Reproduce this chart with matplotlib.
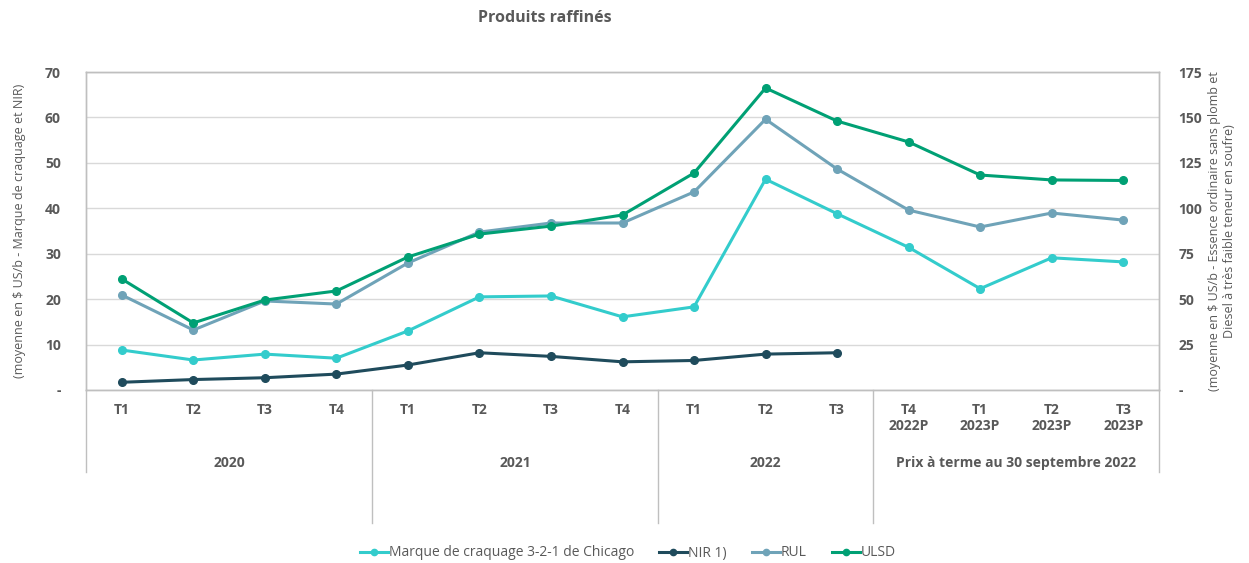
import matplotlib
matplotlib.use("Agg")
import matplotlib.pyplot as plt
from matplotlib.transforms import blended_transform_factory
from matplotlib.lines import Line2D

plt.rcParams['font.family'] = ['Open Sans', 'DejaVu Sans']

categories = ["T1", "T2", "T3", "T4", "T1", "T2", "T3", "T4", "T1", "T2", "T3",
              "T4\n2022P", "T1\n2023P", "T2\n2023P", "T3\n2023P"]
groups = ["2020", "2021", "2022", "Prix à terme au 30 septembre 2022"]
group_sizes = [4, 4, 3, 4]

chicago = [8.8, 6.6, 7.9, 7.0, 13.0, 20.5, 20.7, 16.1, 18.3, 46.4, 38.8, 31.4, 22.3, 29.1, 28.2]
nir = [1.7, 2.3, 2.7, 3.5, 5.5, 8.2, 7.4, 6.2, 6.5, 7.9, 8.2]
rul = [52.3, 33.0, 49.0, 47.3, 69.9, 86.9, 91.9, 91.9, 109.0, 149.0, 121.6, 99.0, 89.7, 97.4, 93.5]
ulsd = [61.1, 36.9, 49.5, 54.5, 73.2, 85.8, 90.2, 96.3, 119.4, 166.2, 148.0, 136.5, 118.3, 115.6, 115.3]

left_ticks = [0, 10, 20, 30, 40, 50, 60, 70]
left_labels = ["-", "10", "20", "30", "40", "50", "60", "70"]
right_ticks = [0, 25, 50, 75, 100, 125, 150, 175]
right_labels = ["-", "25", "50", "75", "100", "125", "150", "175"]

c_chicago = "#33CCCC"
c_nir = "#1F4B5C"
c_rul = "#6FA3B8"
c_ulsd = "#00A074"
txt = "#595959"
grid_c = "#D9D9D9"
border_c = "#BFBFBF"

fig = plt.figure(figsize=(12.49, 5.63), dpi=100)
ax = fig.add_axes([86/1249, 1-390/563, (1159-86)/1249, (390-72)/563])
ax2 = ax.twinx()

x = list(range(len(categories)))
lw = 2.2
ms = 5.5
ax.plot(x, chicago, color=c_chicago, lw=lw, marker="o", ms=ms, zorder=3)
ax.plot(x[:len(nir)], nir, color=c_nir, lw=lw, marker="o", ms=ms, zorder=3)
ax2.plot(x, rul, color=c_rul, lw=lw, marker="o", ms=ms, zorder=3)
ax2.plot(x, ulsd, color=c_ulsd, lw=lw, marker="o", ms=ms, zorder=4)

ax.set_xlim(-0.5, len(categories) - 0.5)
ax.set_ylim(0, 70)
ax2.set_ylim(0, 175)
ax.set_yticks(left_ticks)
ax.set_yticklabels(left_labels)
ax2.set_yticks(right_ticks)
ax2.set_yticklabels(right_labels)
ax.set_xticks(x)
ax.set_xticklabels(categories)

for a in (ax, ax2):
    a.tick_params(length=0, labelsize=10, labelcolor=txt)
    for lab in a.get_yticklabels() + a.get_xticklabels():
        lab.set_fontweight("bold")
    for s in a.spines.values():
        s.set_color(border_c)
        s.set_linewidth(1.0)
ax.tick_params(axis="y", pad=18)
ax2.tick_params(axis="y", pad=14)
ax.tick_params(axis="x", pad=9)
for lab in ax.get_xticklabels():
    lab.set_linespacing(1.25)

ax.yaxis.grid(True, color=grid_c, lw=1.0)
ax.set_axisbelow(True)

ax.set_ylabel("(moyenne en $ US/b - Marque de craquage et NIR)", color=txt, fontsize=9, labelpad=14)
ax2.set_ylabel("(moyenne en $ US/b - Essence ordinaire sans plomb et\nDiesel à très faible teneur en soufre)",
               color=txt, fontsize=9, labelpad=4)

fig.text(545/1249, 1-18/563, "Produits raffinés", ha="center", va="center",
         fontsize=11.5, fontweight="bold", color=txt)

# group labels and separators
tr = blended_transform_factory(ax.transData, fig.transFigure)
start = -0.5
bounds = [start]
for g, n in zip(groups, group_sizes):
    end = start + n
    ax.text((start + end) / 2, 1-463/563, g, transform=tr, ha="center", va="center",
            fontsize=10, fontweight="bold", color=txt)
    start = end
    bounds.append(end)
for i, b in enumerate(bounds):
    outer = i == 0 or i == len(bounds) - 1
    y0 = 1-472/563 if outer else 1-523/563
    fig.add_artist(Line2D([b, b], [1-390/563, y0], transform=tr, color=border_c, lw=1.0))

handles = [
    Line2D([], [], color=c_chicago, lw=lw, marker="o", ms=4.5),
    Line2D([], [], color=c_nir, lw=lw, marker="o", ms=4.5),
    Line2D([], [], color=c_rul, lw=lw, marker="o", ms=4.5),
    Line2D([], [], color=c_ulsd, lw=lw, marker="o", ms=4.5),
]
labels = ["Marque de craquage 3-2-1 de Chicago", "NIR 1)", "RUL", "ULSD"]
leg = fig.legend(handles, labels, loc="center", bbox_to_anchor=(628/1249, 1-553/563), ncol=4,
                 frameon=False, fontsize=10, handlelength=2.0, handletextpad=0.1, columnspacing=1.8)
for t in leg.get_texts():
    t.set_color(txt)

fig.savefig("out.png", dpi=100)
